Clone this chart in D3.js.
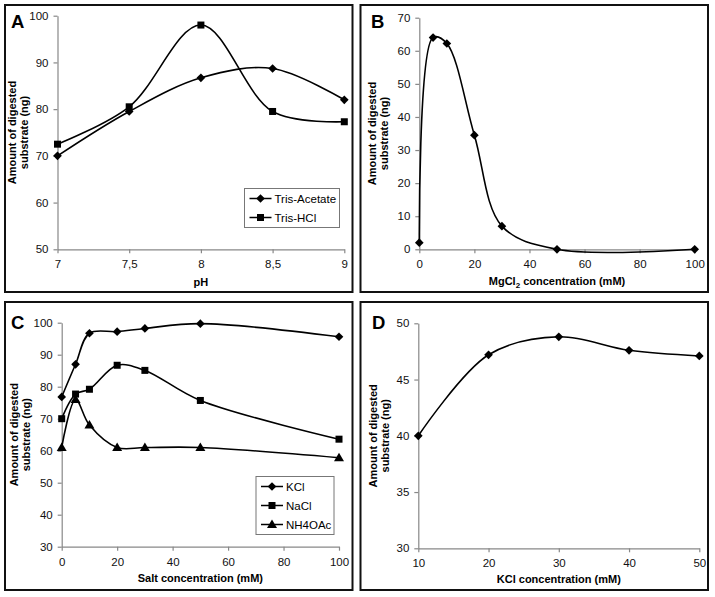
<!DOCTYPE html>
<html><head><meta charset="utf-8">
<script src="https://cdn.jsdelivr.net/npm/d3@7"></script>
<style>
body{margin:0;background:#fff;}
svg{display:block;font-family:"Liberation Sans",Arial,sans-serif;}
</style></head>
<body><svg id="c" width="715" height="597"></svg>
<script>
// ---- Data ----
const phX = [7, 7.5, 8, 8.5, 9];
const trisAcetate = [70, 79.5, 86.7, 88.7, 82];
const trisHCl = [72.5, 80.5, 98, 79.5, 77.3];
const phTicks = ["7", "7,5", "8", "8,5", "9"];

const mgX = [0, 5, 10, 20, 30, 50, 100];
const mgY = [2, 64, 62.2, 34.5, 7, 0, 0];

const saltX = [0, 5, 10, 20, 30, 50, 100];
const kcl = [76.8, 87, 96.7, 97.2, 98.2, 99.7, 95.6];
const nacl = [70, 77.7, 79.2, 86.7, 85.1, 75.7, 63.6];
const nh4oac = [61, 76, 68, 61, 61, 61, 57.8];

const kclX = [10, 20, 30, 40, 50];
const kclY = [40, 47.2, 48.8, 47.6, 47.1];

const svg = d3.select("#c");
const curve = d3.curveCatmullRom.alpha(0.5);

function marker(g, type, x, y){
  if(type==="diamond"){
    g.append("path").attr("d", d3.symbol().type(d3.symbolDiamond2).size(48)()).attr("transform",`translate(${x},${y}) `).attr("fill","#000");
  } else if(type==="square"){
    g.append("rect").attr("x",x-3.5).attr("y",y-3.5).attr("width",7).attr("height",7).attr("fill","#000");
  } else {
    g.append("path").attr("d",`M${x},${y-5}L${x+5},${y+3.5}L${x-5},${y+3.5}Z`).attr("fill","#000");
  }
}

function panel(cfg){
  const g = svg.append("g");
  g.append("rect").attr("x",cfg.frame[0]).attr("y",cfg.frame[1]).attr("width",cfg.frame[2]).attr("height",cfg.frame[3])
    .attr("fill","none").attr("stroke","#111").attr("stroke-width",2);
  const x = d3.scaleLinear().domain(cfg.xd).range([cfg.px[0], cfg.px[1]]);
  const y = d3.scaleLinear().domain(cfg.yd).range([cfg.py[0], cfg.py[1]]);
  const xa = d3.axisBottom(x).tickValues(cfg.xt).tickSize(4).tickPadding(7).tickSizeOuter(0);
  if(cfg.xf) xa.tickFormat(cfg.xf);
  const ya = d3.axisLeft(y).tickValues(cfg.yt).tickSize(4).tickPadding(5).tickSizeOuter(0);
  const gx = g.append("g").attr("transform",`translate(0,${cfg.py[0]})`).call(xa);
  const gy = g.append("g").attr("transform",`translate(${cfg.px[0]},0)`).call(ya);
  [gx,gy].forEach(a=>{
    a.select(".domain").attr("stroke","#888").attr("stroke-width",1.2);
    a.selectAll(".tick line").attr("stroke","#888").attr("stroke-width",1.2);
    a.selectAll(".tick text").attr("font-size",11.5).attr("fill","#111").attr("font-family","Liberation Sans, Arial, sans-serif");
  });
  // series
  cfg.series.forEach(s=>{
    const line = d3.line().x((d,i)=>x(cfg.xs[i])).y(d=>y(d)).curve(curve);
    g.append("path").attr("d", line(s.v)).attr("fill","none").attr("stroke","#000").attr("stroke-width",1.6);
    s.v.forEach((v,i)=>marker(g, s.m, x(cfg.xs[i]), y(v)));
  });
  // letter
  g.append("text").attr("x",cfg.letter[1]).attr("y",cfg.letter[2]).attr("font-size",18.5).attr("font-weight","bold").text(cfg.letter[0]);
  // x title
  const xt = g.append("text").attr("x",(cfg.px[0]+cfg.px[1])/2).attr("y",cfg.xtitleY).attr("text-anchor","middle")
    .attr("font-size",11).attr("font-weight","bold");
  cfg.xtitle(xt);
  // y title
  const cy = (cfg.py[0]+cfg.py[1])/2;
  const yt = g.append("text").attr("transform",`translate(${cfg.ytitleX},${cy}) rotate(-90)`).attr("text-anchor","middle")
    .attr("font-size",11).attr("font-weight","bold");
  yt.append("tspan").attr("x",0).attr("dy",0).text("Amount of digested");
  yt.append("tspan").attr("x",0).attr("dy",12).text("substrate (ng)");
  // legend
  if(cfg.legend){
    const L = cfg.legend;
    g.append("rect").attr("x",L.x).attr("y",L.y).attr("width",L.w).attr("height",L.h).attr("fill","#fff").attr("stroke","#777").attr("stroke-width",1);
    cfg.series.forEach((s,i)=>{
      const yy = L.y + L.y0 + i*L.dy;
      g.append("line").attr("x1",L.x+5).attr("x2",L.x+27).attr("y1",yy).attr("y2",yy).attr("stroke","#000").attr("stroke-width",1.5);
      marker(g, s.m, L.x+16, yy);
      g.append("text").attr("x",L.x+30).attr("y",yy+4.5).attr("font-size",11.5).text(s.name);
    });
  }
}

panel({
  frame:[5,5,347.5,287], xd:[7,9], yd:[50,100], px:[57.5,344.3], py:[249.3,15.7],
  xt:phX, yt:[50,60,70,80,90,100], xf:(d,i)=>phTicks[i], xs:phX,
  series:[{name:"Tris-Acetate",v:trisAcetate,m:"diamond"},{name:"Tris-HCl",v:trisHCl,m:"square"}],
  letter:["A",11,28], xtitleY:286, xtitle:t=>t.text("pH"), ytitleX:16,
  legend:{x:244.5,y:188.5,w:95,h:39,y0:10,dy:19}
});

panel({
  frame:[360.5,5,347.5,287], xd:[0,100], yd:[0,70], px:[419.3,694.7], py:[249.3,17.7],
  xt:[0,20,40,60,80,100], yt:[0,10,20,30,40,50,60,70], xs:mgX,
  series:[{name:"MgCl2",v:mgY,m:"diamond"}],
  letter:["B",371,28], xtitleY:285,
  xtitle:t=>{t.append("tspan").text("MgCl");t.append("tspan").attr("font-size",8).attr("dy",3).text("2");t.append("tspan").attr("dy",-3).text(" concentration (mM)");},
  ytitleX:376
});

panel({
  frame:[5,302,347.5,288], xd:[0,100], yd:[30,100], px:[61.7,339], py:[546.7,322.7],
  xt:[0,20,40,60,80,100], yt:[30,40,50,60,70,80,90,100], xs:saltX,
  series:[{name:"KCl",v:kcl,m:"diamond"},{name:"NaCl",v:nacl,m:"square"},{name:"NH4OAc",v:nh4oac,m:"triangle"}],
  letter:["C",11,329], xtitleY:582, xtitle:t=>t.text("Salt concentration (mM)"), ytitleX:18,
  legend:{x:256,y:476.5,w:78,h:58,y0:10,dy:19}
});

panel({
  frame:[360.5,302,347.5,288], xd:[10,50], yd:[30,50], px:[418.3,699.3], py:[548.3,323.3],
  xt:[10,20,30,40,50], yt:[30,35,40,45,50], xs:kclX,
  series:[{name:"KCl",v:kclY,m:"diamond"}],
  letter:["D",372,329], xtitleY:583, xtitle:t=>t.text("KCl concentration (mM)"), ytitleX:377
});
</script></body></html>
